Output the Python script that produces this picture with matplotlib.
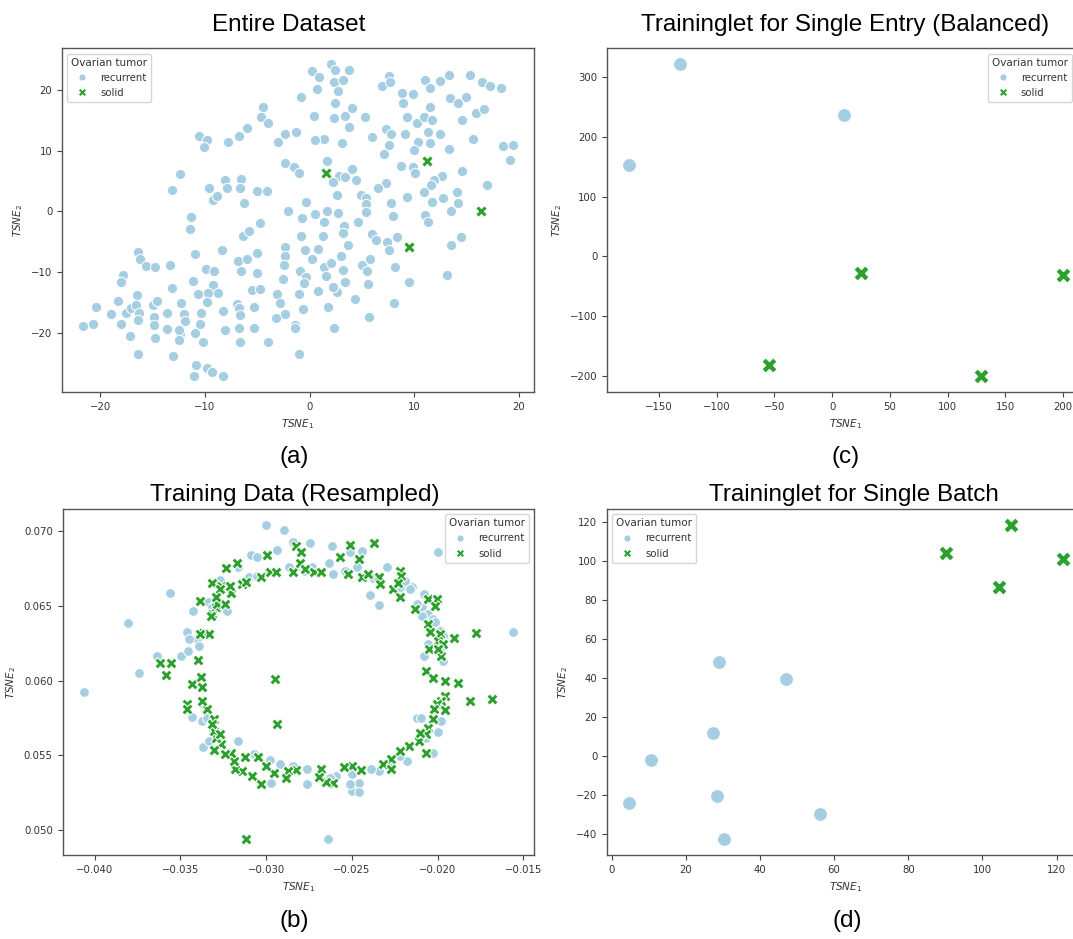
import numpy as np
import matplotlib.pyplot as plt
from matplotlib.lines import Line2D

BLUE = "#a6cee3"
GREEN = "#2ca02c"
LABELS = ["recurrent", "solid"]

# (a) Entire Dataset
a_recurrent = np.array([
    (2.1, 24.3), (0.2, 23.2), (0.9, 22.2), (2.4, 23.4), (3.8, 23.3), (2.3, 21.3), (3.2, 21.6), (0.7, 20.2),
    (2.7, 19.8), (-0.8, 18.8), (6.9, 20.7), (7.6, 22.3), (7.7, 21.3), (8.8, 19.6), (9.9, 19.3), (11.0, 21.7),
    (11.5, 20.3), (12.5, 21.5), (13.3, 22.5), (15.3, 22.5), (16.5, 21.4), (17.2, 20.7), (18.3, 20.4), (13.4, 18.7),
    (15.0, 18.8), (14.2, 17.9), (8.9, 17.8), (15.9, 16.2), (16.7, 16.9), (14.6, 15.0), (9.3, 15.5), (10.3, 14.5),
    (10.9, 15.5), (11.7, 15.0), (11.5, 17.2), (2.4, 17.8), (4.1, 17.0), (3.4, 15.8), (2.3, 15.4), (5.3, 15.6),
    (0.4, 15.7), (3.8, 14.0), (-4.4, 17.3), (-4.6, 15.6), (-4.0, 14.5), (-6.0, 13.8), (7.3, 13.6), (7.8, 12.8),
    (9.1, 12.7), (7.6, 11.0), (12.5, 12.7), (11.3, 13.1), (11.5, 11.3), (10.4, 11.4), (10.0, 10.2), (13.3, 10.3),
    (15.6, 12.0), (18.5, 10.8), (19.4, 10.9), (19.2, 8.4), (6.0, 12.2), (7.1, 9.5), (3.1, 11.3), (1.4, 12.0),
    (0.5, 11.8), (-1.3, 13.1), (-2.3, 12.7), (-3.0, 11.5), (-6.7, 12.5), (-7.8, 11.5), (-10.6, 12.5), (-9.8, 11.7),
    (-10.1, 10.7), (-2.3, 8.0), (-1.5, 7.4), (-1.0, 6.4), (1.7, 8.3), (2.8, 5.8), (3.4, 5.6), (4.1, 7.0),
    (4.4, 5.2), (2.2, 4.9), (8.7, 7.5), (9.9, 7.4), (10.1, 6.4), (14.6, 6.7), (12.7, 5.9), (11.9, 5.2),
    (11.6, 4.3), (10.9, 3.2), (17.0, 4.4), (7.3, 4.7), (6.5, 3.9), (4.9, 2.7), (5.4, 2.2), (5.4, 1.2),
    (5.4, -0.1), (4.6, -1.7), (7.8, 1.3), (8.0, -0.8), (9.3, 2.3), (11.7, 1.6), (12.8, 2.2), (14.1, 3.2),
    (14.2, 1.3), (13.5, 0.0), (11.0, -0.6), (11.3, -1.8), (2.6, 2.7), (2.7, -0.2), (1.7, 0.1), (0.5, -0.4),
    (-0.3, 1.6), (-0.7, -1.1), (-2.1, 0.1), (1.4, -1.7), (-12.4, 6.2), (-13.1, 3.5), (-9.6, 3.9), (-9.2, 1.9),
    (-8.8, 2.6), (-8.1, 5.2), (-7.9, 3.8), (-6.5, 5.3), (-6.6, 3.8), (-6.3, 1.3), (-5.0, 3.4), (-4.1, 3.4),
    (-11.3, -1.0), (-11.4, -2.9), (-6.4, -4.0), (-5.8, -3.2), (-4.7, -2.0), (-0.8, -4.0), (1.3, -4.1), (3.3, -2.4),
    (3.2, -3.6), (3.7, -5.6), (0.8, -6.2), (-0.4, -6.4), (0.2, -7.8), (1.4, -9.1), (2.1, -8.6), (3.0, -7.4),
    (3.2, -9.6), (1.6, -10.7), (3.4, -11.6), (5.0, -8.8), (5.5, -9.9), (5.8, -7.9), (5.6, -12.0), (6.0, -3.8),
    (6.4, -4.7), (7.4, -5.0), (7.6, -6.3), (8.4, -4.2), (13.5, -5.5), (14.5, -4.2), (13.1, -10.5), (9.5, -11.6),
    (8.2, -9.2), (8.1, -15.2), (5.7, -17.4), (4.3, -14.5), (2.6, -13.3), (2.2, -12.4), (0.8, -13.2), (1.8, -15.7),
    (-0.9, -9.8), (-0.3, -10.9), (-0.5, -11.8), (-2.3, -5.9), (-2.3, -7.3), (-2.4, -8.9), (-2.5, -11.2), (-3.1, -13.6),
    (-2.8, -15.1), (-2.3, -16.9), (-3.2, -17.6), (-1.0, -13.7), (-0.6, -16.1), (-1.4, -18.7), (-1.4, -19.3), (-1.0, -23.5),
    (2.3, -19.3), (-8.4, -6.3), (-10.9, -7.0), (-9.9, -9.5), (-9.1, -9.8), (-11.1, -11.5), (-9.2, -12.1), (-9.7, -13.4),
    (-10.7, -13.6), (-8.7, -13.5), (-9.8, -14.9), (-6.8, -8.2), (-6.0, -7.9), (-6.5, -9.8), (-5.0, -6.8), (-5.0, -10.1),
    (-5.5, -13.0), (-4.7, -12.8), (-5.3, -15.8), (-6.9, -15.3), (-6.7, -16.0), (-6.6, -17.1), (-8.3, -16.5), (-10.4, -16.8),
    (-10.5, -18.6), (-8.1, -19.6), (-6.7, -19.3), (-5.3, -19.3), (-6.6, -21.6), (-4.0, -21.6), (-10.9, -20.1), (-10.2, -21.5),
    (-10.8, -25.3), (-9.8, -25.9), (-9.3, -26.5), (-11.0, -27.1), (-8.3, -27.2), (-16.4, -6.7), (-16.2, -7.8), (-15.6, -9.0),
    (-14.8, -9.2), (-13.3, -8.8), (-13.1, -12.7), (-17.8, -10.5), (-18.0, -11.7), (-18.3, -14.8), (-17.5, -16.8), (-17.1, -16.0),
    (-16.5, -13.8), (-16.6, -15.5), (-16.3, -16.7), (-16.4, -18.0), (-15.0, -15.5), (-14.6, -14.8), (-14.9, -17.4), (-14.9, -18.7),
    (-13.6, -16.8), (-12.3, -15.2), (-12.0, -16.9), (-11.9, -18.1), (-12.4, -20.2), (-12.5, -19.5), (-12.5, -21.3), (-13.6, -19.4),
    (-14.8, -20.9), (-13.0, -23.9), (-16.4, -23.5), (-17.2, -20.5), (-18.0, -18.6), (-19.0, -16.9), (-20.4, -15.7), (-20.7, -18.6),
    (-21.6, -18.9),
])
a_solid = np.array([(1.6, 6.4), (11.2, 8.3), (16.4, 0.1), (9.5, -5.9)])

# (b) Training Data (Resampled)
b_recurrent = np.array([
    (-0.04062, 0.05920), (-0.03804, 0.06381), (-0.03739, 0.06047), (-0.03561, 0.06581), (-0.03637, 0.06163),
    (-0.03499, 0.06163), (-0.03453, 0.06194), (-0.03463, 0.06321), (-0.03429, 0.06465), (-0.03370, 0.05557),
    (-0.03433, 0.05757), (-0.03372, 0.05731), (-0.03368, 0.05842), (-0.03403, 0.06276), (-0.03393, 0.06232),
    (-0.03340, 0.06521), (-0.03318, 0.06488), (-0.03228, 0.06465), (-0.03088, 0.06835), (-0.03002, 0.07038),
    (-0.02895, 0.07007), (-0.02937, 0.06869), (-0.03052, 0.06822), (-0.02841, 0.06927), (-0.02747, 0.06918),
    (-0.02615, 0.06900), (-0.02631, 0.06782), (-0.02611, 0.06710), (-0.02514, 0.06860), (-0.02444, 0.06862),
    (-0.02470, 0.06755), (-0.02440, 0.06688), (-0.02296, 0.06755), (-0.02342, 0.06501), (-0.02394, 0.06568),
    (-0.02380, 0.06682), (-0.02220, 0.06621), (-0.02150, 0.06621), (-0.02190, 0.06666), (-0.01999, 0.06860),
    (-0.01562, 0.06325), (-0.02079, 0.06577), (-0.02089, 0.06488), (-0.02059, 0.06443), (-0.02029, 0.06410),
    (-0.02015, 0.06388), (-0.01989, 0.06332), (-0.01969, 0.06298), (-0.01999, 0.06243), (-0.01979, 0.06187),
    (-0.02059, 0.06243), (-0.02079, 0.06165), (-0.01969, 0.06131), (-0.01979, 0.05864), (-0.01979, 0.05731),
    (-0.01999, 0.05653), (-0.02029, 0.05519), (-0.02069, 0.05619), (-0.02119, 0.05753), (-0.02099, 0.05753),
    (-0.02180, 0.05463), (-0.02220, 0.05497), (-0.02270, 0.05452), (-0.02340, 0.05396), (-0.02390, 0.05412),
    (-0.02460, 0.05318), (-0.02500, 0.05263), (-0.02460, 0.05256), (-0.02510, 0.05307), (-0.02500, 0.05374),
    (-0.02591, 0.05363), (-0.02625, 0.05352), (-0.02641, 0.04940), (-0.02761, 0.05307), (-0.02761, 0.05412),
    (-0.02841, 0.05430), (-0.02921, 0.05441), (-0.02972, 0.05318), (-0.02978, 0.05468), (-0.03072, 0.05508),
    (-0.03162, 0.05597), (-0.03222, 0.05519), (-0.03262, 0.05619), (-0.03312, 0.05675), (-0.03332, 0.05597),
    (-0.03342, 0.05753), (-0.03162, 0.06755), (-0.03102, 0.06688), (-0.03052, 0.06699), (-0.02992, 0.06722),
    (-0.02865, 0.06759), (-0.02781, 0.06733), (-0.02731, 0.06755), (-0.02540, 0.06733), (-0.02160, 0.06610),
    (-0.03267, 0.06671), (-0.03451, 0.06280), (-0.02122, 0.06509), (-0.02089, 0.06431),
])
b_solid = np.array([
    (-0.03619, 0.06118), (-0.03553, 0.06118), (-0.03581, 0.06040), (-0.03463, 0.05842), (-0.03459, 0.05813),
    (-0.03431, 0.05976), (-0.03399, 0.06136), (-0.03387, 0.06532), (-0.03379, 0.06024), (-0.03372, 0.05958),
    (-0.03366, 0.06314), (-0.03332, 0.06310), (-0.03318, 0.06650), (-0.03318, 0.06443), (-0.03302, 0.05742),
    (-0.03292, 0.06488), (-0.03286, 0.06510), (-0.03262, 0.06633), (-0.03232, 0.06748), (-0.03242, 0.06510),
    (-0.03206, 0.06581), (-0.03212, 0.06633), (-0.03172, 0.06784), (-0.03142, 0.06644), (-0.03118, 0.06659),
    (-0.03028, 0.06693), (-0.02996, 0.06837), (-0.02978, 0.06726), (-0.02941, 0.06722), (-0.02841, 0.06722),
    (-0.02827, 0.06895), (-0.02795, 0.06855), (-0.02801, 0.06782), (-0.02771, 0.06744), (-0.02721, 0.06722),
    (-0.02681, 0.06726), (-0.02567, 0.06822), (-0.02524, 0.06710), (-0.02514, 0.06906), (-0.02460, 0.06811),
    (-0.02440, 0.06693), (-0.02404, 0.06710), (-0.02370, 0.06915), (-0.02344, 0.06688), (-0.02334, 0.06644),
    (-0.02260, 0.06610), (-0.02220, 0.06733), (-0.02216, 0.06699), (-0.02220, 0.06555), (-0.02130, 0.06477),
    (-0.02059, 0.06543), (-0.02003, 0.06543), (-0.02015, 0.06499), (-0.02059, 0.06376), (-0.02043, 0.06321),
    (-0.01989, 0.06310), (-0.01999, 0.06265), (-0.01969, 0.06243), (-0.01979, 0.06165), (-0.02049, 0.06209),
    (-0.01903, 0.06281), (-0.01779, 0.06316), (-0.02067, 0.06065), (-0.02029, 0.06020), (-0.01959, 0.05998),
    (-0.01883, 0.05984), (-0.01809, 0.05864), (-0.01683, 0.05875), (-0.01959, 0.05898), (-0.01979, 0.05864),
    (-0.02003, 0.05842), (-0.02019, 0.05808), (-0.02029, 0.05742), (-0.02059, 0.05686), (-0.02069, 0.05641),
    (-0.02069, 0.05519), (-0.02109, 0.05597), (-0.02170, 0.05563), (-0.02220, 0.05530), (-0.02270, 0.05474),
    (-0.02320, 0.05441), (-0.02270, 0.05412), (-0.02450, 0.05401), (-0.02500, 0.05430), (-0.02544, 0.05425),
    (-0.02611, 0.05318), (-0.02651, 0.05323), (-0.02681, 0.05408), (-0.02691, 0.05356), (-0.02825, 0.05401),
    (-0.02875, 0.05396), (-0.02885, 0.05352), (-0.02957, 0.05385), (-0.03002, 0.05430), (-0.03046, 0.05492),
    (-0.03082, 0.05363), (-0.03032, 0.05307), (-0.03122, 0.05486), (-0.03142, 0.05396), (-0.03182, 0.05408),
    (-0.03190, 0.05463), (-0.03202, 0.05519), (-0.03242, 0.05512), (-0.03262, 0.05575), (-0.03292, 0.05619),
    (-0.03302, 0.05664), (-0.03342, 0.05808), (-0.03316, 0.05708), (-0.03270, 0.05641), (-0.03302, 0.05535),
    (-0.02951, 0.06009), (-0.02935, 0.05708), (-0.03118, 0.04940), (-0.03383, 0.06310), (-0.03322, 0.06428),
    (-0.03376, 0.05864), (-0.03270, 0.06609), (-0.03290, 0.06560), (-0.02229, 0.06653), (-0.01996, 0.06209),
    (-0.01957, 0.05802), (-0.02103, 0.05651),
])

# (c) Traininglet for Single Entry (Balanced)
c_recurrent = np.array([(-176, 153), (-132, 322), (10, 236)])
c_solid = np.array([(-55, -183), (25, -28), (129, -201), (200, -32)])

# (d) Traininglet for Single Batch
d_recurrent = np.array([(4.6, -24.0), (10.7, -1.9), (27.3, 11.7), (29.0, 48.2),
                        (28.5, -20.3), (30.4, -42.6), (47.0, 39.3), (56.3, -29.6)])
d_solid = np.array([(90.2, 104.2), (107.6, 118.3), (104.4, 86.8), (121.8, 100.8)])

W, H = 1073, 939
fig = plt.figure(figsize=(W / 100, H / 100), dpi=100)


def add_ax(left, top, right, bottom):
    return fig.add_axes([left / W, 1 - bottom / H, (right - left) / W, (bottom - top) / H])


def draw(ax, rec, sol, size, xsize, loc, anchor=None):
    ax.scatter(rec[:, 0], rec[:, 1], s=size, c=BLUE, marker="o", edgecolors="white", linewidths=0.75)
    ax.scatter(sol[:, 0], sol[:, 1], s=xsize, c=GREEN, marker="X", edgecolors="white", linewidths=0.75)
    ax.set_xlabel("$TSNE_1$", fontsize=7.5, color="#333333")
    ax.set_ylabel("$TSNE_2$", fontsize=7.5, color="#333333")
    ax.tick_params(labelsize=7.3, length=3.5, width=0.8, color="#444444", labelcolor="#333333")
    for sp in ax.spines.values():
        sp.set_color("#555555")
        sp.set_linewidth(1.0)
    handles = [
        Line2D([], [], ls="none", marker="o", ms=5, mfc=BLUE, mec="white", mew=0.5),
        Line2D([], [], ls="none", marker="X", ms=5.5, mfc=GREEN, mec="white", mew=0.5),
    ]
    kw = {} if anchor is None else {"bbox_to_anchor": anchor}
    leg = ax.legend(handles, LABELS, title="Ovarian tumor", loc=loc, fontsize=7.3,
                    title_fontsize=7.5, **kw)
    for t in leg.get_texts():
        t.set_color("#333333")
    leg.get_title().set_color("#333333")


ax_a = add_ax(62, 48.5, 534, 391.8)
ax_c = add_ax(607, 48.5, 1085, 391.8)
ax_b = add_ax(62.5, 509.3, 534.3, 855)
ax_d = add_ax(607, 509.3, 1085, 855)

draw(ax_a, a_recurrent, a_solid, 55, 70, "upper left")
draw(ax_b, b_recurrent, b_solid, 50, 66, "upper right")
draw(ax_c, c_recurrent, c_solid, 100, 120, "upper right", anchor=((1077 - 607) / 478, 1.0))
draw(ax_d, d_recurrent, d_solid, 100, 120, "upper left")

title_font = dict(family="Liberation Sans", fontsize=17.5, ha="center", va="baseline")
fig.text(289 / W, 1 - 30.7 / H, "Entire Dataset", **title_font)
fig.text(845 / W, 1 - 30.7 / H, "Traininglet for Single Entry (Balanced)", **title_font)
fig.text(295 / W, 1 - 501 / H, "Training Data (Resampled)", **title_font)
fig.text(854 / W, 1 - 501 / H, "Traininglet for Single Batch", **title_font)

label_font = dict(family="Liberation Sans", fontsize=17.5, ha="center", va="center")
fig.text(294 / W, 1 - 457 / H, "(a)", **label_font)
fig.text(846 / W, 1 - 457 / H, "(c)", **label_font)
fig.text(294 / W, 1 - 921 / H, "(b)", **label_font)
fig.text(847 / W, 1 - 921 / H, "(d)", **label_font)

fig.savefig("out.png", dpi=100)
